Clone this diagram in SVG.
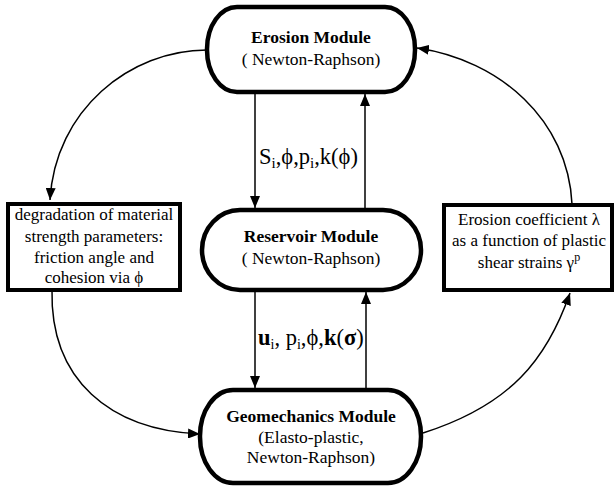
<svg xmlns="http://www.w3.org/2000/svg" width="616" height="487" viewBox="0 0 616 487" font-family="'Liberation Serif', 'Times New Roman', Times, serif">
<defs>
<marker id="ah" viewBox="0 0 12 10" refX="12" refY="5" markerWidth="12" markerHeight="10" markerUnits="userSpaceOnUse" orient="auto">
<path d="M0,0 L12,5 L0,10 Z" fill="#000"/>
</marker>
</defs>
<style>
.node{fill:#fff;stroke:#000;stroke-width:4.5}
.box{fill:#fff;stroke:#000;stroke-width:4}
.c{fill:none;stroke:#000;stroke-width:1.5;marker-end:url(#ah)}
.t{font-size:17.5px;text-anchor:middle;fill:#000}
.b{font-weight:bold}
.s{font-size:17px;text-anchor:middle;fill:#000}
.l{font-size:22.5px;fill:#000}
</style>
<rect width="616" height="487" fill="#fff"/>
<g id="connectors">
<path class="c" d="M207,50 C130,50 55,110 50,200"/>
<path class="c" d="M572,204 C568,120 500,60 417,48"/>
<path class="c" d="M52,290 C50,380 110,430 200,434"/>
<path class="c" d="M423,433 C511,405 547,359 570,293"/>
<path class="c" d="M255,92 L255,208"/>
<path class="c" d="M365,210 L365,94"/>
<path class="c" d="M255,290 L255,388"/>
<path class="c" d="M366,390 L366,292"/>
<text class="l" x="259" y="164" font-size="23.5">S<tspan font-size="15" dy="4">i</tspan><tspan dy="-4">,ϕ,p</tspan><tspan font-size="15" dy="4">i</tspan><tspan dy="-4">,k(ϕ)</tspan></text>
<text class="l" x="258" y="345"><tspan font-weight="bold">u</tspan><tspan font-size="14" dy="4">i</tspan><tspan dy="-4">, p</tspan><tspan font-size="14" dy="4">i</tspan><tspan dy="-4">,ϕ,</tspan><tspan font-weight="bold">k</tspan>(<tspan font-weight="bold">σ</tspan>)</text>
</g>
<g id="erosion">
<rect class="node" x="207" y="7" width="208" height="85" rx="30" ry="42"/>
<text class="t b" x="311" y="43">Erosion Module</text>
<text class="t" x="311" y="65">( Newton-Raphson)</text>
</g>
<g id="reservoir">
<rect class="node" x="202" y="210" width="219" height="80" rx="38" ry="40"/>
<text class="t b" x="311" y="242">Reservoir Module</text>
<text class="t" x="311" y="264">( Newton-Raphson)</text>
</g>
<g id="geomechanics">
<rect class="node" x="200" y="390" width="221" height="93" rx="33" ry="46"/>
<text class="t b" x="311" y="422">Geomechanics Module</text>
<text class="t" x="311" y="443">(Elasto-plastic,</text>
<text class="t" x="311" y="463">Newton-Raphson)</text>
</g>
<g id="degradation">
<rect class="box" x="8" y="204" width="172" height="86"/>
<text class="s" x="94" y="220">degradation of material</text>
<text class="s" x="94" y="242">strength parameters:</text>
<text class="s" x="94" y="263">friction angle and</text>
<text class="s" x="94" y="283">cohesion via ϕ</text>
</g>
<g id="erosion-coefficient">
<rect class="box" x="444" y="205" width="168" height="85"/>
<text class="s" x="529" y="225">Erosion coefficient λ</text>
<text class="s" x="529" y="246">as a function of plastic</text>
<text class="s" x="529" y="268">shear strains γ<tspan font-size="12" dy="-7">p</tspan></text>
</g>
</svg>
